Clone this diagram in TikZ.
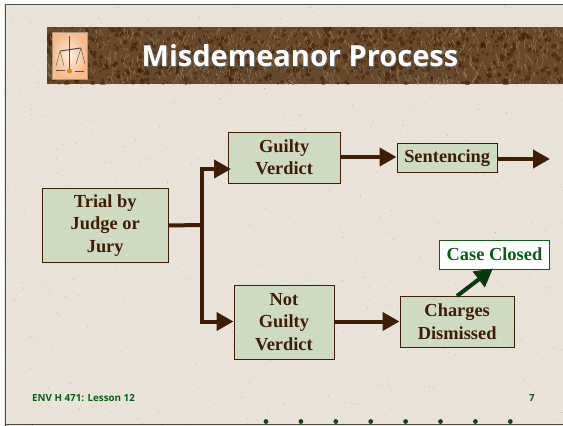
\documentclass[tikz,border=0pt]{standalone}
\usepackage{fontspec}
\setmainfont{Liberation Serif}
\newfontfamily\uifont{Open Sans}
\usetikzlibrary{arrows.meta,calc}
\definecolor{paper}{HTML}{E8E2D8}
\definecolor{brn}{HTML}{3F1C05}
\definecolor{boxg}{HTML}{CEDBC0}
\definecolor{grn}{HTML}{0A5F14}
\definecolor{bann}{HTML}{66482B}
\definecolor{fleck}{HTML}{A98C66}
\definecolor{iconmid}{HTML}{FFF0E0}
\definecolor{iconedge}{HTML}{F5B98A}
\tikzset{
 flow/.style={draw=brn,line width=4pt,-{Triangle[length=17pt,width=18pt]},color=brn},
 stepbox/.style={draw=brn,line width=0.9pt,fill=boxg,text=brn,font=\bfseries\fontsize{18.4}{22.5}\selectfont,align=center,inner sep=0pt,anchor=north west},
 closedbox/.style={draw=grn,line width=0.9pt,fill=white,text=grn,font=\bfseries\fontsize{18.4}{22}\selectfont,align=center,inner sep=0pt,anchor=north west},
}
\begin{document}
\begin{tikzpicture}[x=1pt,y=-1pt]
\useasboundingbox (0,0) rectangle (563,426);
\fill[paper] (0,0) rectangle (563,426);
% paper grain
\pgfmathsetseed{42}
\foreach \i in {1,...,700}{
 \pgfmathsetmacro{\px}{rnd*563}\pgfmathsetmacro{\py}{rnd*426}
 \fill[black!30!paper] (\px,\py) circle (0.35pt);
}
\foreach \i in {1,...,500}{
 \pgfmathsetmacro{\px}{rnd*563}\pgfmathsetmacro{\py}{rnd*426}
 \fill[white,opacity=.5] (\px,\py) circle (0.6pt);
}
% frame
\fill[white!92!paper] (0,0) rectangle (4,426);
\fill[white!92!paper] (0,0) rectangle (563,3.5);
\draw[black!70,line width=1.2pt] (5.5,426) -- (5.5,4.6) -- (563,4.6);
\draw[black!70,line width=1.2pt] (5.5,424.6) -- (563,424.6);
% banner
\fill[bann] (47,27) rectangle (563,84);
\begin{scope}
\clip (47,27) rectangle (563,84);
\foreach \i in {1,...,800}{
 \pgfmathsetmacro{\px}{47+rnd*516}\pgfmathsetmacro{\py}{27+rnd*57}
 \pgfmathsetmacro{\rr}{0.8+rnd*2}
 \fill[brn,opacity=.5] (\px,\py) circle (\rr pt);
}
\foreach \i in {1,...,800}{
 \pgfmathsetmacro{\px}{47+rnd*516}\pgfmathsetmacro{\py}{27+rnd*57}
 \pgfmathsetmacro{\ang}{50+rnd*80}\pgfmathsetmacro{\len}{2+rnd*6}
 \draw[fleck,opacity=.7,line width=0.5pt] (\px,\py) -- ++(\ang:\len);
}
\end{scope}
% icon
\shade[inner color=iconmid,outer color=iconedge] (52,32) rectangle (87,79);
\draw[black!40!brown!60!white,line width=0.6pt] (52,32) rectangle (87,79);
\begin{scope}[line width=0.4pt,draw=black!70]
\draw[line width=1.2pt] (69.5,36) -- (69.5,72);
\draw[line width=1pt] (60,51) -- (81,48);
\draw (60,51) -- (56,66) (60,51) -- (64,66);
\draw (81,48) -- (76,64) (81,48) -- (85,64);
\draw[line width=1.4pt,brown!60!black] (56,70.5) -- (65,70.5);
\draw[line width=1.4pt,brown!60!black] (75,71.5) -- (84,71.5);
\fill[orange!70!brown] (69.5,71) circle (2.5pt);
\end{scope}
% title
\node[font=\uifont\bfseries\fontsize{29}{34}\selectfont,text=black!60,inner sep=0pt] at (301,57) {Misdemeanor Process};
\node[font=\uifont\bfseries\fontsize{29}{34}\selectfont,text=white,inner sep=0pt] at (300,56) {Misdemeanor Process};
% boxes
\node[stepbox,minimum width=126.5pt,minimum height=74pt] (trial) at (41.5,188) {Trial by\\Judge or\\Jury};
\node[stepbox,minimum width=111.5pt,minimum height=51pt] (guilty) at (228,131.5) {Guilty\\Verdict};
\node[stepbox,minimum width=100pt,minimum height=74pt] (notg) at (233.5,284.5) {Not\\Guilty\\Verdict};
\node[stepbox,minimum width=100.5pt,minimum height=29pt] (sent) at (396.5,143) {Sentencing};
\node[stepbox,minimum width=114.5pt,minimum height=51pt] (charges) at (399.5,296) {Charges\\Dismissed};
\node[closedbox,minimum width=110pt,minimum height=29pt] (closed) at (439,239.5) {Case Closed};
% connectors
\coordinate (gin) at (231,169);
\coordinate (nin) at (233.5,321.5);
\coordinate (out) at (550,159);
\coordinate (cs) at (457,296);
\coordinate (ct) at (493,268.5);
\draw[flow] (201.5,225) -- (201.5,169) -- (gin);
\draw[flow] (201.5,225) -- (201.5,321.5) -- (nin);
\draw[draw=brn,line width=4pt] (trial.east) -- (203.5,225);
\draw[flow] (guilty.east |- 0,157) -- (sent.west |- 0,157);
\draw[flow] (sent.east |- 0,159) -- (out);
\draw[flow] (notg.east |- 0,321.5) -- (charges.west |- 0,321.5);
\draw[line width=4pt,draw=grn!60!black,color=grn!60!black,-{Triangle[length=18pt,width=19pt]}] (cs) -- (ct);
% footer
\node[font=\uifont\bfseries\fontsize{9.8}{12}\selectfont,text=grn,anchor=west,inner sep=0pt] (foot) at (32,398.5) {ENV H 471: Lesson 12};
\node[font=\uifont\bfseries\fontsize{9.8}{12}\selectfont,text=grn,inner sep=0pt] (pg) at (532,398.5) {7};
\foreach \k in {0,...,7}{ \fill[grn!80!black] ({266+\k*34.9},421.5) circle (2.4pt); }
\end{tikzpicture}
\end{document}
